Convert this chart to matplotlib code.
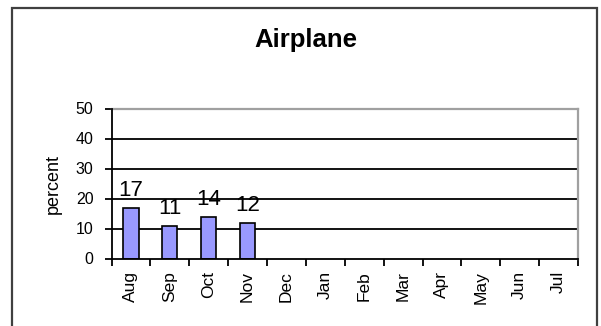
import matplotlib
matplotlib.use("Agg")
import matplotlib.pyplot as plt
from matplotlib.patches import Rectangle
from matplotlib import font_manager

months = ["Aug", "Sep", "Oct", "Nov", "Dec", "Jan", "Feb", "Mar", "Apr", "May", "Jun", "Jul"]
values = [17, 11, 14, 12]
y_ticks = [0, 10, 20, 30, 40, 50]
title = "Airplane"
y_label = "percent"

names = {f.name for f in font_manager.fontManager.ttflist}
base = "Liberation Sans" if "Liberation Sans" in names else "DejaVu Sans"
plt.rcParams["font.family"] = [base, "DejaVu Sans"]

W, H = 601, 326
fig = plt.figure(figsize=(W / 100, H / 100), dpi=100)
fig.patch.set_facecolor("white")

# outer chart frame (bottom edge runs off the canvas)
fig.add_artist(Rectangle((12 / W, -0.05), (597 - 12) / W, 1.05 - 7.5 / H,
                         transform=fig.transFigure, fill=False,
                         edgecolor="#404040", linewidth=1.6))

left, right, top, bottom = 111.5, 578, 108.5, 258.5
ax = fig.add_axes([left / W, 1 - bottom / H, (right - left) / W, (bottom - top) / H])

x = list(range(len(values)))
ax.bar(x, values, width=0.39, color="#9999FF", edgecolor="black", linewidth=1.2, zorder=3)
for xi, v in zip(x, values):
    ax.annotate(f"{v}", (xi, v), xytext=(0, 8.5), textcoords="offset points",
                ha="center", va="baseline", fontsize=16, color="black", zorder=4)

ax.set_xlim(-0.5, len(months) - 0.5)
ax.set_ylim(0, 50)
ax.set_yticks(y_ticks)
ax.set_yticklabels([str(t) for t in y_ticks], fontsize=11.5)
for t in y_ticks[1:-1]:
    ax.axhline(t, color="black", linewidth=1.3, zorder=1)

ax.set_xticks([i - 0.5 for i in range(len(months) + 1)])
ax.set_xticklabels([""] * (len(months) + 1))
ax.set_xticks(range(len(months)), minor=True)
ax.set_xticklabels(months, minor=True, rotation=90, fontsize=12.5, va="top")
ax.tick_params(axis="x", which="minor", length=0, pad=9)
ax.tick_params(axis="x", which="major", length=5, width=1.3, direction="out")
ax.tick_params(axis="y", length=5, width=1.3, direction="out", pad=8)

for s in ("left", "bottom"):
    ax.spines[s].set_color("black")
    ax.spines[s].set_linewidth(1.3)
    ax.spines[s].set_zorder(5)
for s in ("top", "right"):
    ax.spines[s].set_color("#a0a0a0")
    ax.spines[s].set_linewidth(1.6)

ax.set_ylabel(y_label, fontsize=13, labelpad=10)
fig.text(305.5 / W, 1 - 40 / H, title, ha="center", va="center",
         fontsize=18.5, fontweight="bold")

fig.savefig("out.png", dpi=100)
